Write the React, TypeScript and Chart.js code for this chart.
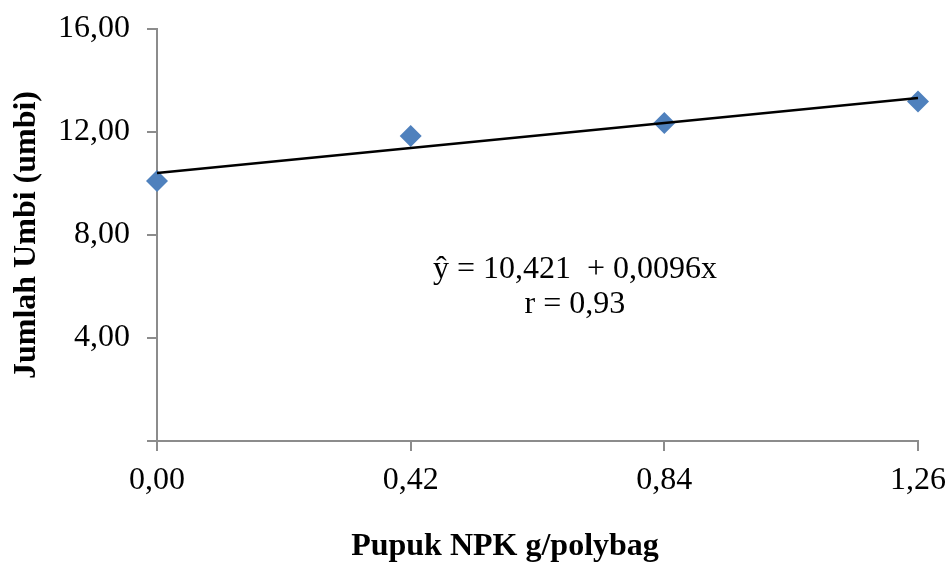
import React, { useEffect, useRef } from "react";
import { Chart, registerables } from "chart.js";

Chart.register(...registerables);

const xTicks = [0, 0.42, 0.84, 1.26];
const xTickLabels = ["0,00", "0,42", "0,84", "1,26"];
const yTicks = [0, 4, 8, 12, 16];
const yTickLabels = ["", "4,00", "8,00", "12,00", "16,00"];
const doses = [0, 0.42, 0.84, 1.26];
const tubers = [10.1, 11.84, 12.35, 13.18];
const trendX = [0, 1.26];
const trendY = [10.41, 13.32];
const equationLines = ["ŷ = 10,421  + 0,0096x", "r = 0,93"];
const xTitle = "Pupuk NPK g/polybag";
const yTitle = "Jumlah Umbi (umbi)";

const FONT = "'Liberation Serif', 'Times New Roman', serif";

export default function App() {
  const ref = useRef<HTMLCanvasElement | null>(null);
  useEffect(() => {
    document.body.style.margin = "0";
    const canvas = ref.current!;
    const textPlugin = {
      id: "texts",
      afterDraw(chart: any) {
        const ctx = chart.ctx;
        const xs = chart.scales.x;
        const ys = chart.scales.y;
        const ca = chart.chartArea;
        ctx.save();
        ctx.fillStyle = "#000";
        ctx.textAlign = "center";
        ctx.textBaseline = "middle";
        ctx.font = `32px ${FONT}`;
        const cx = xs.getPixelForValue(0.692);
        ctx.fillText(equationLines[0], cx, ys.getPixelForValue(6.64));
        ctx.fillText(equationLines[1], cx, ys.getPixelForValue(5.28));
        ctx.font = `bold 32px ${FONT}`;
        ctx.fillText(xTitle, 505, 547);
        ctx.translate(27, (ca.top + ca.bottom) / 2);
        ctx.rotate(-Math.PI / 2);
        ctx.fillText(yTitle, 0, 0);
        ctx.restore();
      },
    };
    const chart = new Chart(canvas, {
      type: "scatter",
      data: {
        datasets: [
          {
            label: "trend",
            type: "line",
            data: trendX.map((x, i) => ({ x, y: trendY[i] })),
            borderColor: "#000",
            borderWidth: 2.5,
            pointRadius: 0,
            fill: false,
            clip: false,
          } as any,
          {
            label: "Jumlah Umbi",
            data: doses.map((x, i) => ({ x, y: tubers[i] })),
            pointStyle: "rectRot",
            pointRadius: 11,
            pointBackgroundColor: "#4F81BD",
            pointBorderColor: "#4F81BD",
            pointBorderWidth: 0,
            clip: false,
          } as any,
        ],
      },
      options: {
        animation: false,
        responsive: false,
        layout: { padding: { top: 29, right: 31, left: 0, bottom: 0 } },
        plugins: { legend: { display: false }, tooltip: { enabled: false } },
        scales: {
          x: {
            type: "linear",
            min: 0,
            max: 1.26,
            afterBuildTicks: (s: any) => {
              s.ticks = xTicks.map((v) => ({ value: v }));
            },
            afterFit: (s: any) => {
              s.height = 127;
              s.paddingLeft = 0;
              s.paddingRight = 0;
            },
            ticks: {
              callback: (_v: any, i: number) => xTickLabels[i],
              font: { family: FONT, size: 32 },
              color: "#000",
              padding: 10,
              maxRotation: 0,
            },
            grid: {
              drawOnChartArea: false,
              drawTicks: true,
              tickLength: 10,
              color: "#8c8c8c",
              lineWidth: 2,
            },
            border: { color: "#8c8c8c", width: 2 },
          },
          y: {
            type: "linear",
            min: 0,
            max: 16,
            afterBuildTicks: (s: any) => {
              s.ticks = yTicks.map((v) => ({ value: v }));
            },
            afterFit: (s: any) => {
              s.width = 157;
              s.paddingTop = 0;
              s.paddingBottom = 0;
            },
            ticks: {
              callback: (_v: any, i: number) => yTickLabels[i],
              font: { family: FONT, size: 32 },
              color: "#000",
              padding: 17,
            },
            grid: {
              drawOnChartArea: false,
              drawTicks: true,
              tickLength: 10,
              color: "#8c8c8c",
              lineWidth: 2,
            },
            border: { color: "#8c8c8c", width: 2 },
          },
        },
      },
      plugins: [textPlugin],
    });
    return () => chart.destroy();
  }, []);
  return <canvas ref={ref} width={949} height={568} style={{ display: "block" }} />;
}
